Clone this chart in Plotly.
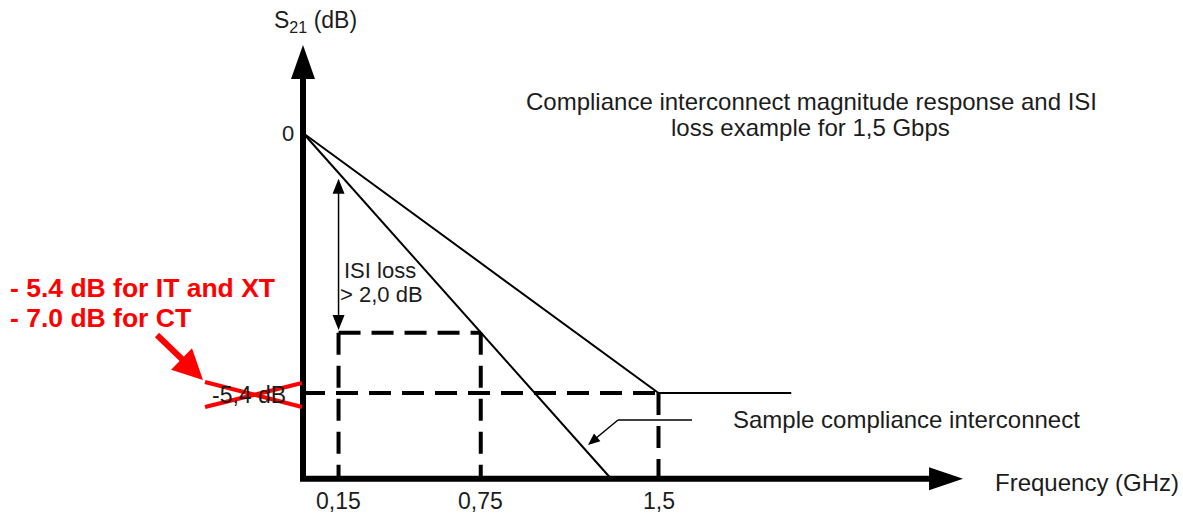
import plotly.graph_objects as go

# ---------------- data ----------------
freq_ticks = [0.15, 0.75, 1.5]
freq_tick_labels = ["0,15", "0,75", "1,5"]

# compliance interconnect limit: 0 dB at DC, -5.4 dB at 1.5 GHz, flat beyond
limit_freq = [0.0, 1.5, 2.06]
limit_s21 = [0.0, -5.4, -5.4]

# sample compliance interconnect (straight line down to the frequency axis)
sample_freq = [0.0, 1.30]
sample_s21 = [0.0, -7.18]

# ISI loss markers: arrow top at 0.15 GHz, loss level read at 0.75 GHz
isi_freq = [0.15, 0.75]
isi_s21 = [-0.95, -4.15]

# ---------------- layout constants ----------------
W, H = 1183, 517
X0, XS = 303.0, 237.0      # pixel of 0 GHz, pixels per GHz
Y0, YS = 133.0, 48.15      # pixel of 0 dB, pixels per dB
AX_FLOOR = -7.18           # level (dB) at which the frequency axis is drawn
Y_TIP = 1.83               # S21 axis arrow tip (dB)
X_TIP = 2.785              # frequency axis arrow tip (GHz)

BLACK = "#000000"
TXT = "#1c1c1c"
RED = "#ff0000"
FONT = "Liberation Sans, Arial, Helvetica, sans-serif"


def PX(p):
    return p / W


def PY(p):
    return 1 - p / H


fig = go.Figure()


def line(x, y, width, dash=None, color=BLACK):
    fig.add_trace(go.Scatter(
        x=x, y=y, mode="lines", hoverinfo="skip", showlegend=False,
        line=dict(color=color, width=width, dash=dash)))


DASH = "22px,11px"

# dashed guide lines
line([isi_freq[0], isi_freq[1]], [isi_s21[1], isi_s21[1]], 4, DASH)
line([isi_freq[0], isi_freq[0]], [isi_s21[1], AX_FLOOR], 4, DASH)
line([isi_freq[1], isi_freq[1]], [isi_s21[1], AX_FLOOR], 4, DASH)
line([limit_freq[0], limit_freq[1]], [limit_s21[1], limit_s21[1]], 4, DASH)
line([limit_freq[1], limit_freq[1]], [limit_s21[1], AX_FLOOR], 4, DASH)

# response lines
line(limit_freq, limit_s21, 2)
line(sample_freq, sample_s21, 2)

# ISI double arrow shaft
ISI_BOTTOM = isi_s21[1] + 0.06
line([isi_freq[0], isi_freq[0]], [isi_s21[0] - 0.2, ISI_BOTTOM + 0.2], 1.5)

# axes (L shape)
line([0, 0, X_TIP - 0.12], [Y_TIP - 0.65, AX_FLOOR, AX_FLOOR], 6)


def head(xref, yref, xa, ya, path, color=BLACK):
    return dict(type="path", xref=xref, yref=yref, xsizemode="pixel",
                ysizemode="pixel", xanchor=xa, yanchor=ya, path=path,
                fillcolor=color, line=dict(width=0))


shapes = [
    # axis arrow heads (pixel-sized triangles anchored at the arrow tips)
    head("x", "y", 0, Y_TIP, "M0,0 L-12,-34 L12,-34 Z"),
    head("x", "y", X_TIP, AX_FLOOR, "M0,0 L-34,11.5 L-34,-11.5 Z"),
    # ISI double arrow heads
    head("x", "y", isi_freq[0], isi_s21[0], "M0,0 L-6,-15 L6,-15 Z"),
    head("x", "y", isi_freq[0], ISI_BOTTOM, "M0,0 L-6,15 L6,15 Z"),
    # leader to the sample line: horizontal part, slanted part and head
    dict(type="line", xref="paper", yref="paper",
         x0=PX(618), y0=PY(420), x1=PX(692), y1=PY(420),
         line=dict(color=BLACK, width=1.5)),
    dict(type="line", xref="paper", yref="paper",
         x0=PX(618), y0=PY(420), x1=PX(595), y1=PY(439),
         line=dict(color=BLACK, width=1.5)),
    head("paper", "paper", PX(588), PY(445),
         "M0,0 L12.4,3.8 L6.0,11.5 Z"),
    # red arrow pointing at the crossed label
    dict(type="line", xref="paper", yref="paper",
         x0=PX(157), y0=PY(335), x1=PX(186), y1=PY(363),
         line=dict(color=RED, width=6)),
    head("paper", "paper", PX(203), PY(380),
         "M0,0 L-11,31.7 L-31.9,10.3 Z", RED),
    # red cross over the old -5,4 dB label
    dict(type="line", xref="paper", yref="paper",
         x0=PX(205), y0=PY(382), x1=PX(302), y1=PY(407),
         line=dict(color=RED, width=4)),
    dict(type="line", xref="paper", yref="paper",
         x0=PX(205), y0=PY(407), x1=PX(302), y1=PY(383),
         line=dict(color=RED, width=4)),
]

ann = []


def text(t, x, y, size, xref="paper", yref="paper", xanchor="center",
         color=TXT):
    ann.append(dict(text=t, x=x, y=y, xref=xref, yref=yref, xanchor=xanchor,
                    yanchor="middle", showarrow=False,
                    font=dict(family=FONT, size=size, color=color)))


# tick labels on the frequency axis
for f, lab in zip(freq_ticks, freq_tick_labels):
    text(lab, f, PY(501), 23, xref="x")

text("Frequency (GHz)", PX(993), PY(482), 24, xanchor="left")
text("S<sub>21</sub> (dB)", PX(272), PY(22), 23, xanchor="left")
text("0", PX(296), 0, 22, yref="y", xanchor="right")
text("-5,4 dB", PX(288), limit_s21[1] - 0.04, 23, yref="y", xanchor="right")
text("Compliance interconnect magnitude response and ISI",
     PX(811), PY(101), 24)
text("loss example for 1,5 Gbps", PX(810), PY(127), 24)
text("ISI loss", PX(380), PY(270), 22)
text("&gt; 2,0 dB", PX(382), PY(294), 22)
text("Sample compliance interconnect", PX(731), PY(419), 24, xanchor="left")
text("<b>- 5.4 dB for IT and XT</b>", PX(8), PY(288), 26.5, xanchor="left",
     color=RED)
text("<b>- 7.0 dB for CT</b>", PX(8), PY(318), 26.5, xanchor="left",
     color=RED)

fig.update_layout(
    width=W, height=H,
    margin=dict(l=0, r=0, t=0, b=0),
    paper_bgcolor="white", plot_bgcolor="white",
    xaxis=dict(range=[-X0 / XS, (W - X0) / XS], visible=False, fixedrange=True),
    yaxis=dict(range=[-(H - Y0) / YS, Y0 / YS], visible=False, fixedrange=True),
    shapes=shapes, annotations=ann, showlegend=False,
)

fig.write_html("out.html", config={"displayModeBar": False},
               post_script="document.body.style.margin='0';")
